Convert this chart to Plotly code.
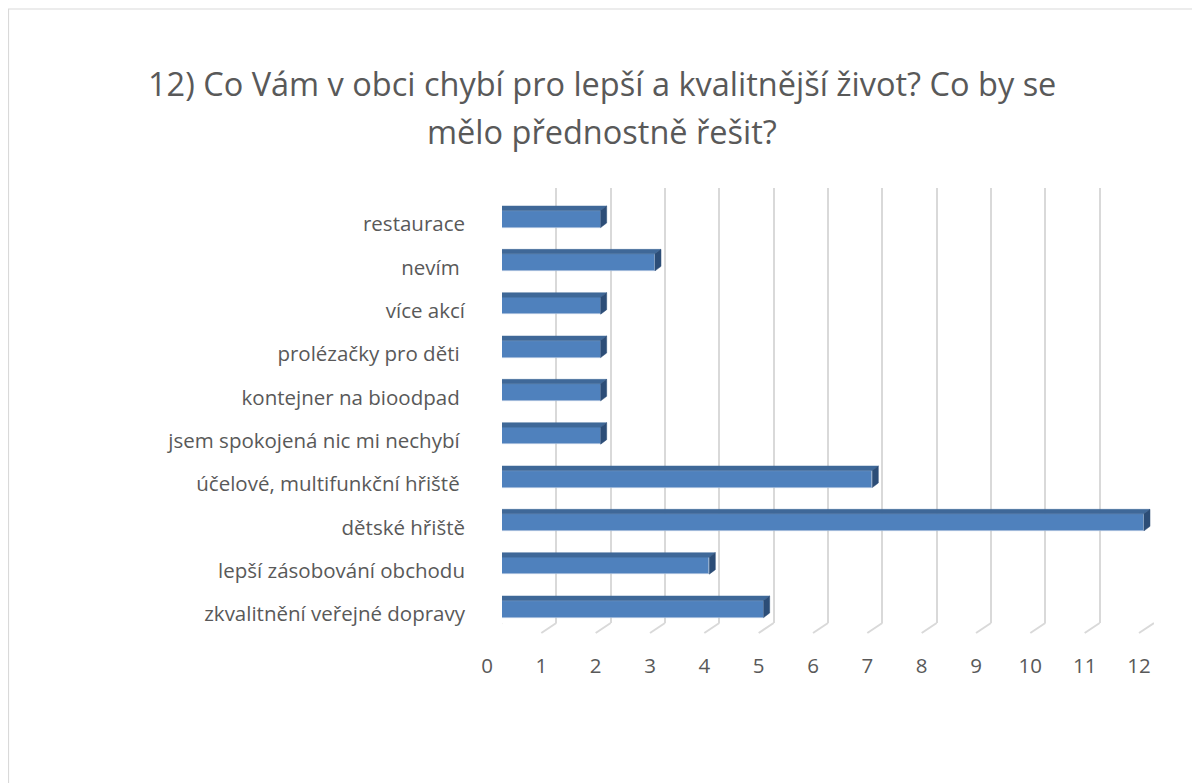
import plotly.graph_objects as go

# data (bottom to top, as in the chart)
categories = [
    "zkvalitnění veřejné dopravy",
    "lepší zásobování obchodu",
    "dětské hřiště",
    "účelové, multifunkční hřiště ",
    "jsem spokojená nic mi nechybí ",
    "kontejner na bioodpad ",
    "prolézačky pro děti ",
    "více akcí",
    "nevím ",
    "restaurace",
]
values = [5, 4, 12, 7, 2, 2, 2, 2, 3, 2]
x_ticks = list(range(0, 13))
title_lines = [
    "12) Co Vám v obci chybí pro lepší a kvalitnější život? Co by se",
    "mělo přednostně řešit?",
]

# the page puts the figure 8px in from the top left
OFF = 8
W, H = 1200 - OFF, 783 - OFF
L, R, T, B = 502 - OFF, 46, 188 - OFF, 160
pw, ph = W - L - R, H - T - B
ux = pw / 12.0          # px per x unit
y_lo, y_hi = -0.323, 9.716
uy = ph / (y_hi - y_lo)  # px per category

# 3D look
D = 10 / ux      # front face offset to the left of the back plane
bw = 17 / uy     # front face thickness
dx = 6 / ux
dy = 4.5 / uy

front = "#4F81BD"
top_c = "#3F6898"
side_c = "#2C4D77"
grey = "#595959"
grid = "#D9D9D9"

ypos = list(range(len(categories)))

fig = go.Figure()

fig.add_trace(go.Bar(
    y=ypos, x=values, base=[-D] * len(values), orientation="h", width=bw,
    marker=dict(color=front, line=dict(color="#9DB6D8", width=0.8)),
    hoverinfo="skip", showlegend=False,
))

tx, ty, sx, sy = [], [], [], []
for i, v in zip(ypos, values):
    x0, x1 = -D, v - D
    y0, y1 = i - bw / 2, i + bw / 2
    tx += [x0, x1, x1 + dx, x0 + dx, x0, None]
    ty += [y1, y1, y1 + dy, y1 + dy, y1, None]
    sx += [x1, x1, x1 + dx, x1 + dx, x1, None]
    sy += [y0, y1, y1 + dy, y0 + dy, y0, None]

fig.add_trace(go.Scatter(x=tx, y=ty, fill="toself", fillcolor=top_c, mode="lines",
                         line=dict(color=top_c, width=0.5), hoverinfo="skip", showlegend=False))
fig.add_trace(go.Scatter(x=sx, y=sy, fill="toself", fillcolor=side_c, mode="lines",
                         line=dict(color=side_c, width=0.5), hoverinfo="skip", showlegend=False))

# floor feet of the gridlines
for k in x_ticks:
    fig.add_shape(type="line", xref="x", yref="paper", x0=k, y0=0,
                  x1=k - 15 / ux, y1=-10 / ph, line=dict(color=grid, width=2), layer="below")

# chart border (top and left visible)
fig.add_shape(type="rect", xref="paper", yref="paper",
              x0=(0.5 - L) / pw, y0=-0.6, x1=1.2, y1=(H - B - 1) / ph,
              line=dict(color=grid, width=1.2), layer="below")

for n, line in enumerate(title_lines):
    fig.add_annotation(text=line, xref="paper", yref="paper",
                       x=(602 - OFF - L) / pw, y=(H - B - (84 - OFF + 48 * n)) / ph,
                       xanchor="center", yanchor="middle", showarrow=False,
                       font=dict(family="Open Sans", size=32.5, color=grey))

fig.update_layout(
    width=W, height=H,
    margin=dict(l=L, r=R, t=T, b=B),
    paper_bgcolor="white", plot_bgcolor="white",
    font=dict(family="Open Sans", color=grey),
    xaxis=dict(range=[0, 12], tickvals=x_ticks, showgrid=True, gridcolor=grid, gridwidth=2,
               zeroline=False, showline=False, ticks="",
               tickfont=dict(size=20.5, color=grey), ticklabelstandoff=28, ticklabelshift=-15),
    yaxis=dict(range=[y_lo, y_hi], tickvals=ypos, ticktext=categories, showgrid=False,
               zeroline=False, showline=False, ticks="",
               tickfont=dict(size=20.5, color=grey), ticklabelstandoff=36, ticklabelshift=5),
    bargap=0,
)

fig.write_html("out.html")
